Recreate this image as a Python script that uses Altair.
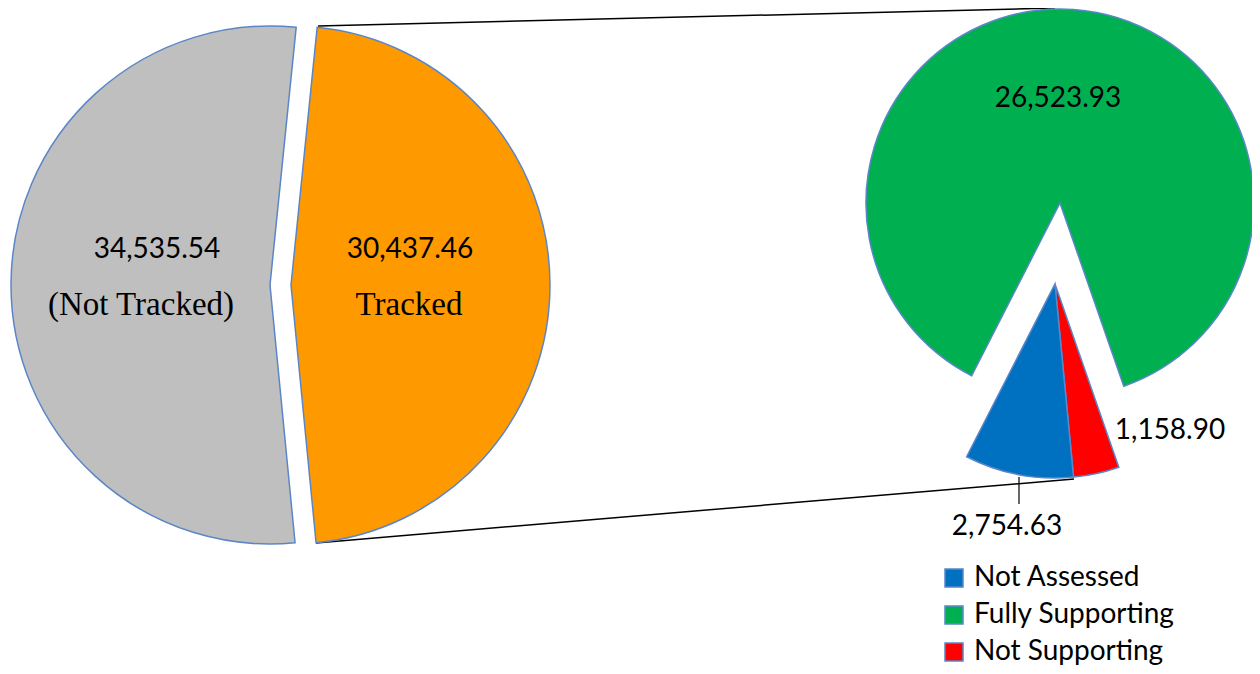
import math
import altair as alt
import pandas as pd

# ---------------- data ----------------
left_categories = ["Tracked", "Not Tracked"]
left_values = [30437.46, 34535.54]
left_names = ["Tracked", "(Not Tracked)"]
left_colors = ["#FF9900", "#BFBFBF"]

right_categories = ["Not Supporting", "Not Assessed", "Fully Supporting"]
right_values = [1158.90, 2754.63, 26523.93]
legend_order = ["Not Assessed", "Fully Supporting", "Not Supporting"]
legend_colors = ["#0070C0", "#00B050", "#FF0000"]

left_df = pd.DataFrame({
    "cat": left_categories,
    "value": left_values,
    "name": left_names,
    "idx": list(range(len(left_categories))),
})
right_df = pd.DataFrame({
    "cat": right_categories,
    "value": right_values,
    "idx": list(range(len(right_categories))),
})
one_df = pd.DataFrame({"k": [0]})

# ---------------- styling / layout ----------------
W, H = 1244, 658
M = 8  # page margin -> chart coords
STROKE = "#5A86C8"
NUM_FONT = "Lato"
SERIF_FONT = "Liberation Serif"

def P(v):
    return v - M

left_start = math.radians(5.8)
right_start = math.radians(160.8)
R_LEFT = 259
R_RIGHT = 194


def pie_layer(df, cx, cy, show, start, radius, color_enc):
    return alt.Chart(df).mark_arc(
        radius=radius, stroke=STROKE, strokeWidth=1.5
    ).encode(
        theta=alt.Theta("value:Q", stack=True,
                        scale=alt.Scale(range=[start, start + 2 * math.pi])),
        order=alt.Order("idx:Q"),
        color=color_enc,
        opacity=alt.condition(
            alt.FieldOneOfPredicate(field="cat", oneOf=show),
            alt.value(1), alt.value(0)),
        x=alt.value(P(cx)),
        y=alt.value(P(cy)),
    )


left_color = alt.Color("cat:N", scale=alt.Scale(domain=left_categories, range=left_colors),
                       legend=None)
right_color = alt.Color(
    "cat:N",
    scale=alt.Scale(domain=legend_order, range=legend_colors),
    legend=alt.Legend(
        orient="none", legendX=P(940), legendY=P(564), title=None,
        symbolType="square", symbolSize=324, symbolStrokeColor=STROKE,
        symbolStrokeWidth=1.5, symbolOpacity=1, labelFont=NUM_FONT,
        labelFontSize=28, labelColor="black", rowPadding=9,
        labelOffset=6, padding=0, labelLimit=400,
    ),
)

left_pie = alt.layer(
    pie_layer(left_df, 270, 285, ["Not Tracked"], left_start, R_LEFT, left_color),
    pie_layer(left_df, 291, 285, ["Tracked"], left_start, R_LEFT, left_color),
)

right_pie = alt.layer(
    pie_layer(right_df, 1055, 284, ["Not Supporting", "Not Assessed"], right_start,
              R_RIGHT, right_color),
    pie_layer(right_df, 1060, 203, ["Fully Supporting"], right_start, R_RIGHT, right_color),
)

# connector lines and leader line
def rule(x1, y1, x2, y2, width=1.5):
    return alt.Chart(one_df).mark_rule(color="black", strokeWidth=width).encode(
        x=alt.value(P(x1)), y=alt.value(P(y1)), x2=alt.value(P(x2)), y2=alt.value(P(y2)))

lines = alt.layer(
    rule(318, 26, 1055, 8),
    rule(316, 543, 1074, 479),
    rule(1019, 477, 1019, 504, 1.2),
)


def value_text(df, cat, x, y):
    return alt.Chart(df).transform_filter(alt.datum.cat == cat).mark_text(
        font=NUM_FONT, fontSize=28, color="black", align="center", baseline="alphabetic"
    ).encode(text=alt.Text("value:Q", format=",.2f"), x=alt.value(P(x)), y=alt.value(P(y)))


def name_text(df, cat, x, y):
    return alt.Chart(df).transform_filter(alt.datum.cat == cat).mark_text(
        font=SERIF_FONT, fontSize=33, color="black", align="center", baseline="alphabetic"
    ).encode(text="name:N", x=alt.value(P(x)), y=alt.value(P(y)))


texts = alt.layer(
    value_text(left_df, "Not Tracked", 157, 258),
    name_text(left_df, "Not Tracked", 141, 315),
    value_text(left_df, "Tracked", 410, 258),
    name_text(left_df, "Tracked", 409, 315),
    value_text(right_df, "Fully Supporting", 1058, 107),
    value_text(right_df, "Not Supporting", 1170, 439),
    value_text(right_df, "Not Assessed", 1007, 535),
)

chart = alt.layer(lines, left_pie, right_pie, texts).resolve_scale(
    theta="independent", color="independent", opacity="independent"
).properties(
    width=W, height=H, padding=0, autosize=alt.AutoSizeParams(type="none"),
    background="white",
).configure_view(stroke=None)

chart.save("out.html", embed_options={"renderer": "svg", "actions": False})
